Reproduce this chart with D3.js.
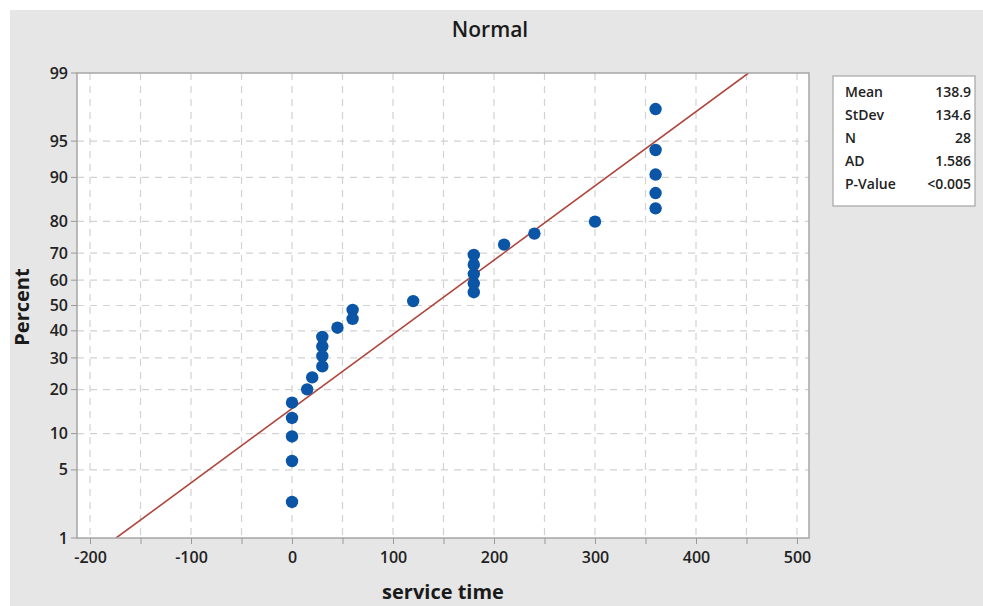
<!DOCTYPE html>
<html><head><meta charset="utf-8">
<script src="https://cdn.jsdelivr.net/npm/d3@7"></script>
<style>
html,body{margin:0;padding:0;background:#fff;}
svg{display:block;font-family:"Open Sans","Noto Sans",sans-serif;}
</style></head>
<body><svg id="c" width="983" height="606"></svg>
<script>
// Data: service time values (sorted), 28 observations
const serviceTime = [0,0,0,0,0,15,20,30,30,30,30,45,60,60,120,180,180,180,180,180,210,240,300,360,360,360,360,360];
const percentTicks = [1,5,10,20,30,40,50,60,70,80,90,95,99];
const xTicks = [-200,-100,0,100,200,300,400,500];
const xGrid = [-200,-150,-100,-50,0,50,100,150,200,250,300,350,400,450,500];
const statLabels = ["Mean","StDev","N","AD","P-Value"];
const statValues = ["138.9","134.6","28","1.586","<0.005"];
const fitMean = 138.9, fitSd = 134.6;

// inverse normal CDF (Acklam)
function qnorm(p){
  const a=[-3.969683028665376e+01,2.209460984245205e+02,-2.759285104469687e+02,1.383577518672690e+02,-3.066479806614716e+01,2.506628277459239e+00];
  const b=[-5.447609879822406e+01,1.615858368580409e+02,-1.556989798598866e+02,6.680131188771972e+01,-1.328068155288572e+01];
  const c=[-7.784894002430293e-03,-3.223964580411365e-01,-2.400758277161838e+00,-2.549732539343734e+00,4.374664141464968e+00,2.938163982698783e+00];
  const d=[7.784695709041462e-03,3.224671290700398e-01,2.445134137142996e+00,3.754408661907416e+00];
  const pl=0.02425;let q,r;
  if(p<pl){q=Math.sqrt(-2*Math.log(p));return (((((c[0]*q+c[1])*q+c[2])*q+c[3])*q+c[4])*q+c[5])/((((d[0]*q+d[1])*q+d[2])*q+d[3])*q+1);}
  if(p<=1-pl){q=p-0.5;r=q*q;return (((((a[0]*r+a[1])*r+a[2])*r+a[3])*r+a[4])*r+a[5])*q/(((((b[0]*r+b[1])*r+b[2])*r+b[3])*r+b[4])*r+1);}
  q=Math.sqrt(-2*Math.log(1-p));return -(((((c[0]*q+c[1])*q+c[2])*q+c[3])*q+c[4])*q+c[5])/((((d[0]*q+d[1])*q+d[2])*q+d[3])*q+1);
}

const svg=d3.select("#c");
svg.append("rect").attr("x",10).attr("y",10).attr("width",973).attr("height",596).attr("fill","#e6e6e6");

const L=77,R=809,T=73,B=538;
const x=d3.scaleLinear().domain([-212.9,511.9]).range([L,R]);
const zTop=qnorm(0.99), zBot=qnorm(0.01);
const yz=d3.scaleLinear().domain([zBot,zTop]).range([B,T]);
const yP=p=>yz(qnorm(p/100));

svg.append("rect").attr("x",L).attr("y",T).attr("width",R-L).attr("height",B-T).attr("fill","#fff");

// grid
const g=svg.append("g");
g.selectAll(".vg").data(xGrid).join("line")
 .attr("x1",d=>x(d)).attr("x2",d=>x(d)).attr("y1",T).attr("y2",B)
 .attr("stroke","#d2d2d2").attr("stroke-width",1.2).attr("stroke-dasharray","7,6");
g.selectAll(".hg").data(percentTicks.filter(p=>p>1&&p<99)).join("line")
 .attr("x1",L).attr("x2",R).attr("y1",d=>yP(d)).attr("y2",d=>yP(d))
 .attr("stroke","#d2d2d2").attr("stroke-width",1.2).attr("stroke-dasharray","7,6");

// fit line
const zs=[zBot,zTop];
const line=d3.line().x(z=>x(fitMean+fitSd*z)).y(z=>yz(z));
svg.append("defs").append("clipPath").attr("id","clip").append("rect").attr("x",L).attr("y",T).attr("width",R-L).attr("height",B-T);
svg.append("path").attr("d",line(zs)).attr("stroke","#b0473f").attr("stroke-width",1.6).attr("fill","none").attr("clip-path","url(#clip)");

// points with median ranks
const n=serviceTime.length;
svg.selectAll(".pt").data(serviceTime).join("circle")
 .attr("cx",d=>x(d)).attr("cy",(d,i)=>yz(qnorm((i+1-0.3)/(n+0.4))))
 .attr("r",6.2).attr("fill","#0a55a5");

// border
svg.append("rect").attr("x",L).attr("y",T).attr("width",R-L).attr("height",B-T).attr("fill","none").attr("stroke","#a6a6a6").attr("stroke-width",1.5);

// axes
const xa=svg.append("g").attr("transform",`translate(0,${B})`)
 .call(d3.axisBottom(x).tickValues(xGrid).tickSize(6).tickFormat(d=>xTicks.includes(d)?d:""));
xa.select(".domain").remove();
xa.selectAll("line").attr("stroke","#999");
xa.selectAll("text").attr("font-size",16).attr("font-weight",600).attr("fill","#222").attr("dy","1.0em").style("font-family","'Open Sans',sans-serif");
const yt=svg.append("g");
yt.selectAll("line").data(percentTicks).join("line").attr("x1",L-6).attr("x2",L).attr("y1",d=>yP(d)).attr("y2",d=>yP(d)).attr("stroke","#999");
yt.selectAll("text").data(percentTicks).join("text").attr("x",L-9).attr("y",d=>yP(d)).attr("dy","0.35em")
 .attr("text-anchor","end").attr("font-size",16).attr("font-weight",600).attr("fill","#222").text(d=>d);

// title and labels
svg.append("text").attr("x",490).attr("y",37).attr("text-anchor","middle").attr("font-size",21).attr("font-weight",600).attr("fill","#1a1a1a").text("Normal");
svg.append("text").attr("x",443).attr("y",599).attr("text-anchor","middle").attr("font-size",20).attr("font-weight",700).attr("fill","#1a1a1a").text("service time");
svg.append("text").attr("transform","translate(29,307) rotate(-90)").attr("text-anchor","middle").attr("font-size",20).attr("font-weight",700).attr("fill","#1a1a1a").text("Percent");

// stats box
svg.append("rect").attr("x",833).attr("y",76).attr("width",142).attr("height",130).attr("fill","#fff").attr("stroke","#a6a6a6").attr("stroke-width",1.2);
const sg=svg.append("g");
sg.selectAll(".sl").data(statLabels).join("text").attr("x",845).attr("y",(d,i)=>97+i*23).attr("font-size",14).attr("font-weight",600).attr("fill","#222").text(d=>d);
sg.selectAll(".sv").data(statValues).join("text").attr("x",971).attr("y",(d,i)=>97+i*23).attr("text-anchor","end").attr("font-size",14).attr("font-weight",600).attr("fill","#222").text(d=>d);
</script></body></html>
